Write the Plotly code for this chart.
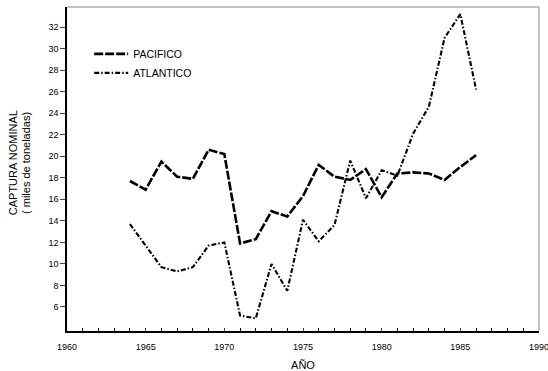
import plotly.graph_objects as go

years = list(range(1964, 1987))
pacifico = [17.7, 16.9, 19.5, 18.1, 17.9, 20.6, 20.2, 11.9, 12.3, 14.9, 14.4, 16.3,
            19.2, 18.1, 17.8, 18.8, 16.2, 18.4, 18.5, 18.4, 17.8, 19.0, 20.1]
atlantico = [13.7, 11.7, 9.7, 9.3, 9.7, 11.7, 12.0, 5.2, 4.95, 10.0, 7.5, 14.1,
             12.1, 13.6, 19.6, 16.1, 18.7, 18.2, 22.1, 24.6, 31.0, 33.2, 26.2]
x_ticks = [1960, 1965, 1970, 1975, 1980, 1985, 1990]
y_ticks = [6, 8, 10, 12, 14, 16, 18, 20, 22, 24, 26, 28, 30, 32]

fig = go.Figure()
fig.add_trace(go.Scatter(x=years, y=pacifico, mode="lines", name="PACIFICO",
                         line=dict(color="black", width=2.6, dash="9px,2px")))
fig.add_trace(go.Scatter(x=years, y=atlantico, mode="lines", name="ATLANTICO",
                         line=dict(color="black", width=2.1, dash="5px,2px,1.5px,2px")))

font = "Liberation Sans"
fig.update_layout(
    width=548, height=371,
    margin=dict(l=67, r=9, t=7, b=40, autoexpand=False),
    paper_bgcolor="white", plot_bgcolor="white",
    font=dict(family=font, color="black", size=9),
    showlegend=True,
    legend=dict(x=0.047, y=0.90, xanchor="left", yanchor="top",
                bgcolor="rgba(0,0,0,0)", font=dict(size=10.5, family=font),
                itemwidth=34, tracegroupgap=0),
    xaxis=dict(range=[1960, 1990], tickvals=x_ticks, ticks="inside", ticklen=3,
               minor=dict(dtick=1, ticks="inside", ticklen=3, tickcolor="black"),
               showgrid=False, zeroline=False, showline=True, linecolor="black",
               linewidth=1.5, mirror=False, tickfont=dict(size=9),
               automargin=False, ticklabeloverflow="allow", ticklabelstandoff=6,
               title=dict(text="AÑO", font=dict(size=11), standoff=12)),
    yaxis=dict(range=[3.77, 33.86], tickvals=y_ticks, ticks="outside", ticklen=5,
               showgrid=False, zeroline=False, showline=True, linecolor="black",
               linewidth=1.5, mirror=False, tickfont=dict(size=9),
               automargin=False),
    annotations=[
        dict(text="CAPTURA NOMINAL", xref="paper", yref="paper", x=-0.115, y=0.52,
             xanchor="center", yanchor="middle", textangle=-90, showarrow=False,
             font=dict(size=11)),
        dict(text="( miles de toneladas)", xref="paper", yref="paper", x=-0.088, y=0.52,
             xanchor="center", yanchor="middle", textangle=-90, showarrow=False,
             font=dict(size=11)),
    ],
)
# light frame on top/right
fig.add_shape(type="line", xref="paper", yref="paper", x0=0, x1=1, y0=1, y1=1,
              line=dict(color="#888", width=1))
fig.add_shape(type="line", xref="paper", yref="paper", x0=1, x1=1, y0=0, y1=1,
              line=dict(color="#888", width=1))
fig.write_html("out.html", config={"displayModeBar": False},
               post_script="document.body.style.margin='0';document.body.style.overflow='hidden';")
